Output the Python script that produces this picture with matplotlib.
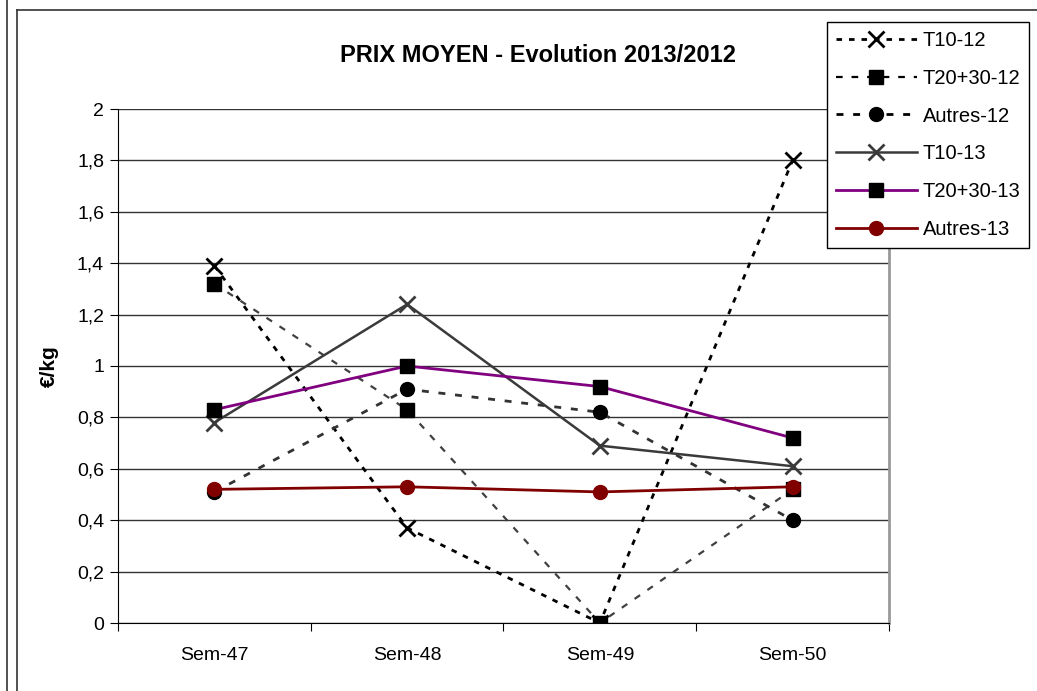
import numpy as np
import matplotlib
matplotlib.use("Agg")
import matplotlib.pyplot as plt
from matplotlib.lines import Line2D

plt.rcParams['font.family'] = ['Liberation Sans', 'DejaVu Sans']

# data
semaines = ["Sem-47", "Sem-48", "Sem-49", "Sem-50"]
t10_12 = [1.39, 0.37, 0.0, 1.80]
t2030_12 = [1.32, 0.83, 0.0, 0.52]
autres_12 = [0.51, 0.91, 0.82, 0.40]
t10_13 = [0.78, 1.24, 0.69, 0.61]
t2030_13 = [0.83, 1.00, 0.92, 0.72]
autres_13 = [0.52, 0.53, 0.51, 0.53]

W, H = 1037, 691
fig = plt.figure(figsize=(W / 100, H / 100), dpi=100)
ax = fig.add_axes([118 / W, (H - 623) / H, 771 / W, 514 / H])

x = np.arange(len(semaines))

ax.plot(x, t10_12, color='black', lw=2, ls=(0, (2, 2.5)), marker='x', ms=11, mew=2,
        mec='black', label='T10-12', zorder=3)
ax.plot(x, t2030_12, color='#404040', lw=1.6, ls=(0, (3, 4)), marker='s', ms=10,
        mfc='black', mec='black', label='T20+30-12', zorder=3)
ax.plot(x, autres_12, color='#333333', lw=2, ls=(0, (2.5, 3.5)), marker='o', ms=10,
        mfc='black', mec='black', label='Autres-12', zorder=3)
ax.plot(x, t10_13, color='#3a3a3a', lw=1.8, marker='x', ms=11, mew=2,
        label='T10-13', zorder=4)
ax.plot(x, t2030_13, color='#800080', lw=2, marker='s', ms=10,
        mfc='black', mec='black', label='T20+30-13', zorder=4)
ax.plot(x, autres_13, color='#800000', lw=2, marker='o', ms=10,
        mfc='#800000', mec='#800000', label='Autres-13', zorder=5)

ax.set_xlim(-0.5, 3.5)
ax.set_ylim(0, 2)
yt = np.arange(0, 2.01, 0.2)
ax.set_yticks(yt)
ax.set_yticklabels([('%.1f' % v).replace('.', ',').replace(',0', '') for v in yt])
ax.yaxis.grid(True, color='#333333', lw=1)
ax.set_axisbelow(True)

ax.set_xticks(np.arange(-0.5, 3.6, 1))
ax.set_xticklabels([])
ax.set_xticks(x, minor=True)
ax.set_xticklabels(semaines, minor=True)
ax.tick_params(axis='x', which='minor', length=0, pad=17, labelsize=14)
ax.tick_params(axis='x', which='major', length=6, direction='out', color='black')
ax.tick_params(axis='y', length=6, direction='out', labelsize=14, pad=4)

ax.spines['top'].set_visible(False)
ax.spines['right'].set_color('#999999')
ax.spines['right'].set_linewidth(2)
ax.spines['left'].set_color('black')
ax.spines['bottom'].set_color('black')

ax.set_ylabel('€/kg', fontsize=15, fontweight='bold', labelpad=13)
fig.text(538 / W, 1 - 56 / H, 'PRIX MOYEN - Evolution 2013/2012', ha='center', va='center',
         fontsize=17, fontweight='bold')

leg = fig.legend(loc='upper left', bbox_to_anchor=(827 / W, 1 - 22 / H), fontsize=14.5,
                 handlelength=4.0, handletextpad=0.3, labelspacing=0.93, borderpad=0.45,
                 borderaxespad=0, fancybox=False, framealpha=1, edgecolor='black')
leg.get_frame().set_linewidth(1)
for h in leg.get_lines()[:3]:
    h.set_color('black')

# outer frames
for xp in (7, 17):
    fig.add_artist(Line2D([xp / W, xp / W], [0, 1 if xp == 7 else 1 - 10 / H], color='#333333', lw=1.2))
fig.add_artist(Line2D([17 / W, 1], [1 - 10 / H, 1 - 10 / H], color='#333333', lw=1.2))

fig.savefig('out.png', dpi=100)
